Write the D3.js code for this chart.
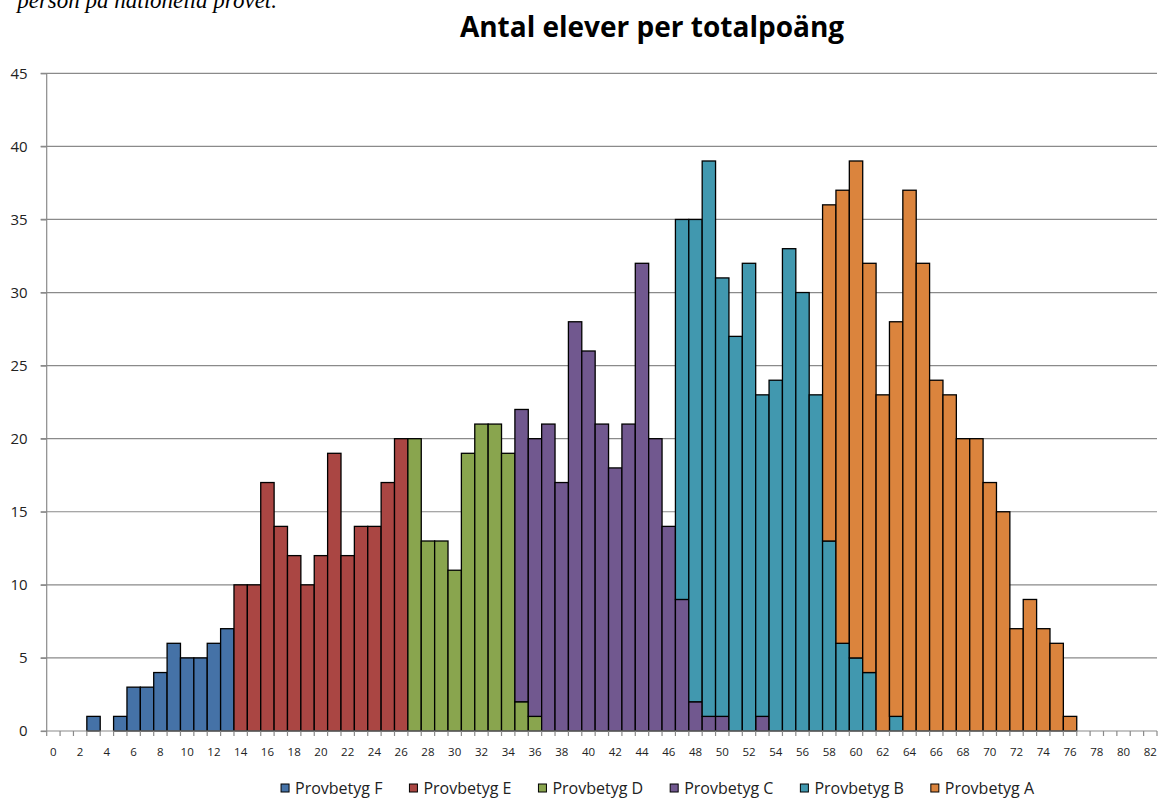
<!DOCTYPE html>
<html>
<head>
<meta charset="utf-8">
<script src="https://cdn.jsdelivr.net/npm/d3@7"></script>
<style>
  html, body { margin: 0; padding: 0; background: #fff; }
  svg { display: block; }
</style>
</head>
<body>
<svg id="chart" width="1160" height="799"></svg>
<script>
// ---------- DATA ----------
const categories = [0,1,2,3,4,5,6,7,8,9,10,11,12,13,14,15,16,17,18,19,20,21,22,23,24,25,26,27,28,29,30,31,32,33,34,35,36,37,38,39,40,41,42,43,44,45,46,47,48,49,50,51,52,53,54,55,56,57,58,59,60,61,62,63,64,65,66,67,68,69,70,71,72,73,74,75,76,77,78,79,80,81,82];
const seriesNames = ["Provbetyg F", "Provbetyg E", "Provbetyg D", "Provbetyg C", "Provbetyg B", "Provbetyg A"];
const seriesColors = ["#4572A7", "#AA4643", "#89A54E", "#71588F", "#4198AF", "#DB843D"];

// counts per score (score -> count), one list per grade
const scoresF = [3, 5, 6, 7, 8, 9, 10, 11, 12, 13];
const countsF = [1, 1, 3, 3, 4, 6, 5, 5, 6, 7];
const scoresE = [14, 15, 16, 17, 18, 19, 20, 21, 22, 23, 24, 25, 26];
const countsE = [10, 10, 17, 14, 12, 10, 12, 19, 12, 14, 14, 17, 20];
const scoresD = [27, 28, 29, 30, 31, 32, 33, 34, 35, 36];
const countsD = [20, 13, 13, 11, 19, 21, 21, 19, 2, 1];
const scoresC = [35, 36, 37, 38, 39, 40, 41, 42, 43, 44, 45, 46, 47, 48, 49, 50, 53];
const countsC = [20, 19, 21, 17, 28, 26, 21, 18, 21, 32, 20, 14, 9, 2, 1, 1, 1];
const scoresB = [47, 48, 49, 50, 51, 52, 53, 54, 55, 56, 57, 58, 59, 60, 61, 63];
const countsB = [26, 33, 38, 30, 27, 32, 22, 24, 33, 30, 23, 13, 6, 5, 4, 1];
const scoresA = [58, 59, 60, 61, 62, 63, 64, 65, 66, 67, 68, 69, 70, 71, 72, 73, 74, 75, 76];
const countsA = [23, 31, 34, 28, 23, 27, 37, 32, 24, 23, 20, 20, 17, 15, 7, 9, 7, 6, 1];

const yTicks = [0, 5, 10, 15, 20, 25, 30, 35, 40, 45];
const xTickLabels = [0,2,4,6,8,10,12,14,16,18,20,22,24,26,28,30,32,34,36,38,40,42,44,46,48,50,52,54,56,58,60,62,64,66,68,70,72,74,76,78,80,82];

const titleText = "Antal elever per totalpoäng";
const headerText = "person på nationella provet.";

// ---------- BUILD TABLE ----------
const seriesScores = [scoresF, scoresE, scoresD, scoresC, scoresB, scoresA];
const seriesCounts = [countsF, countsE, countsD, countsC, countsB, countsA];
const table = categories.map(c => {
  const row = { cat: c };
  seriesNames.forEach((n, i) => {
    const idx = seriesScores[i].indexOf(c);
    row[n] = idx >= 0 ? seriesCounts[i][idx] : 0;
  });
  return row;
});
const stacked = d3.stack().keys(seriesNames)(table);

// ---------- LAYOUT ----------
const svg = d3.select("#chart");
const plotLeft = 46.7, plotRight = 1157, plotTop = 73.3, plotBottom = 731;

const x = d3.scaleBand().domain(categories).range([plotLeft, plotRight]).padding(0);
const y = d3.scaleLinear().domain([0, 45]).range([plotBottom, plotTop]);

// header fragment (cropped document text, as in the source)
svg.append("text")
  .attr("x", 277).attr("y", 8)
  .attr("text-anchor", "end")
  .attr("font-family", "'Liberation Serif', 'DejaVu Serif', serif")
  .attr("font-style", "italic")
  .attr("font-size", 23)
  .attr("fill", "#000")
  .text(headerText);

// title
svg.append("text")
  .attr("x", 652).attr("y", 37)
  .attr("text-anchor", "middle")
  .attr("font-family", "'Open Sans', sans-serif")
  .attr("font-weight", "bold")
  .attr("font-size", 28)
  .attr("fill", "#000")
  .text(titleText);

// gridlines
svg.append("g")
  .selectAll("line")
  .data(yTicks.filter(d => d > 0))
  .join("line")
  .attr("x1", plotLeft - 6).attr("x2", plotRight)
  .attr("y1", d => y(d)).attr("y2", d => y(d))
  .attr("stroke", "#8a8a8a").attr("stroke-width", 1.2);

// y axis
const yAxis = d3.axisLeft(y).tickValues(yTicks).tickSize(6).tickPadding(13);
const gy = svg.append("g").attr("transform", `translate(${plotLeft},0)`).call(yAxis);
gy.select(".domain").attr("stroke", "#8a8a8a").attr("stroke-width", 1.2).attr("d", `M0,${plotTop}V${plotBottom}`);
gy.selectAll(".tick line").attr("stroke", "#8a8a8a").attr("stroke-width", 1.2);
gy.selectAll(".tick text")
  .attr("font-family", "'Open Sans', sans-serif")
  .attr("font-size", 15).attr("fill", "#222");

// bars
const layers = svg.append("g")
  .selectAll("g")
  .data(stacked)
  .join("g")
  .attr("fill", (d, i) => seriesColors[i]);
layers.selectAll("rect")
  .data(d => d.filter(p => p[1] - p[0] > 0))
  .join("rect")
  .attr("x", d => x(d.data.cat))
  .attr("width", x.bandwidth())
  .attr("y", d => y(d[1]))
  .attr("height", d => y(d[0]) - y(d[1]))
  .attr("stroke", "#000")
  .attr("stroke-width", 1.3);

// x axis line and ticks at band boundaries
const gx = svg.append("g");
gx.append("line")
  .attr("x1", plotLeft - 6).attr("x2", plotRight)
  .attr("y1", plotBottom).attr("y2", plotBottom)
  .attr("stroke", "#8a8a8a").attr("stroke-width", 1.2);
gx.selectAll("line.tk")
  .data(categories.concat([null]))
  .join("line")
  .attr("class", "tk")
  .attr("x1", d => d === null ? plotRight : x(d))
  .attr("x2", d => d === null ? plotRight : x(d))
  .attr("y1", plotBottom).attr("y2", plotBottom + 5)
  .attr("stroke", "#8a8a8a").attr("stroke-width", 1.2);
gx.selectAll("text")
  .data(xTickLabels)
  .join("text")
  .attr("x", d => x(d) + x.bandwidth() / 2)
  .attr("y", plotBottom + 25)
  .attr("text-anchor", "middle")
  .attr("font-family", "'Open Sans', sans-serif")
  .attr("font-size", 11.5)
  .attr("fill", "#222")
  .text(d => d);

// legend
const legend = svg.append("g");
const items = legend.selectAll("g")
  .data(seriesNames)
  .join("g");
items.append("rect")
  .attr("width", 8).attr("height", 8)
  .attr("y", -9.5)
  .attr("fill", (d, i) => seriesColors[i])
  .attr("stroke", "#000").attr("stroke-width", 1);
items.append("text")
  .attr("x", 14).attr("y", 0)
  .attr("font-family", "'Open Sans', sans-serif")
  .attr("font-size", 16)
  .attr("fill", "#222")
  .text(d => d);
const widths = [];
items.each(function() { widths.push(this.getBBox().width); });
const gap = 27;
const total = d3.sum(widths) + gap * (widths.length - 1);
let cx = 658 - total / 2;
items.attr("transform", (d, i) => {
  const t = `translate(${cx},793.5)`;
  cx += widths[i] + gap;
  return t;
});
</script>
</body>
</html>
